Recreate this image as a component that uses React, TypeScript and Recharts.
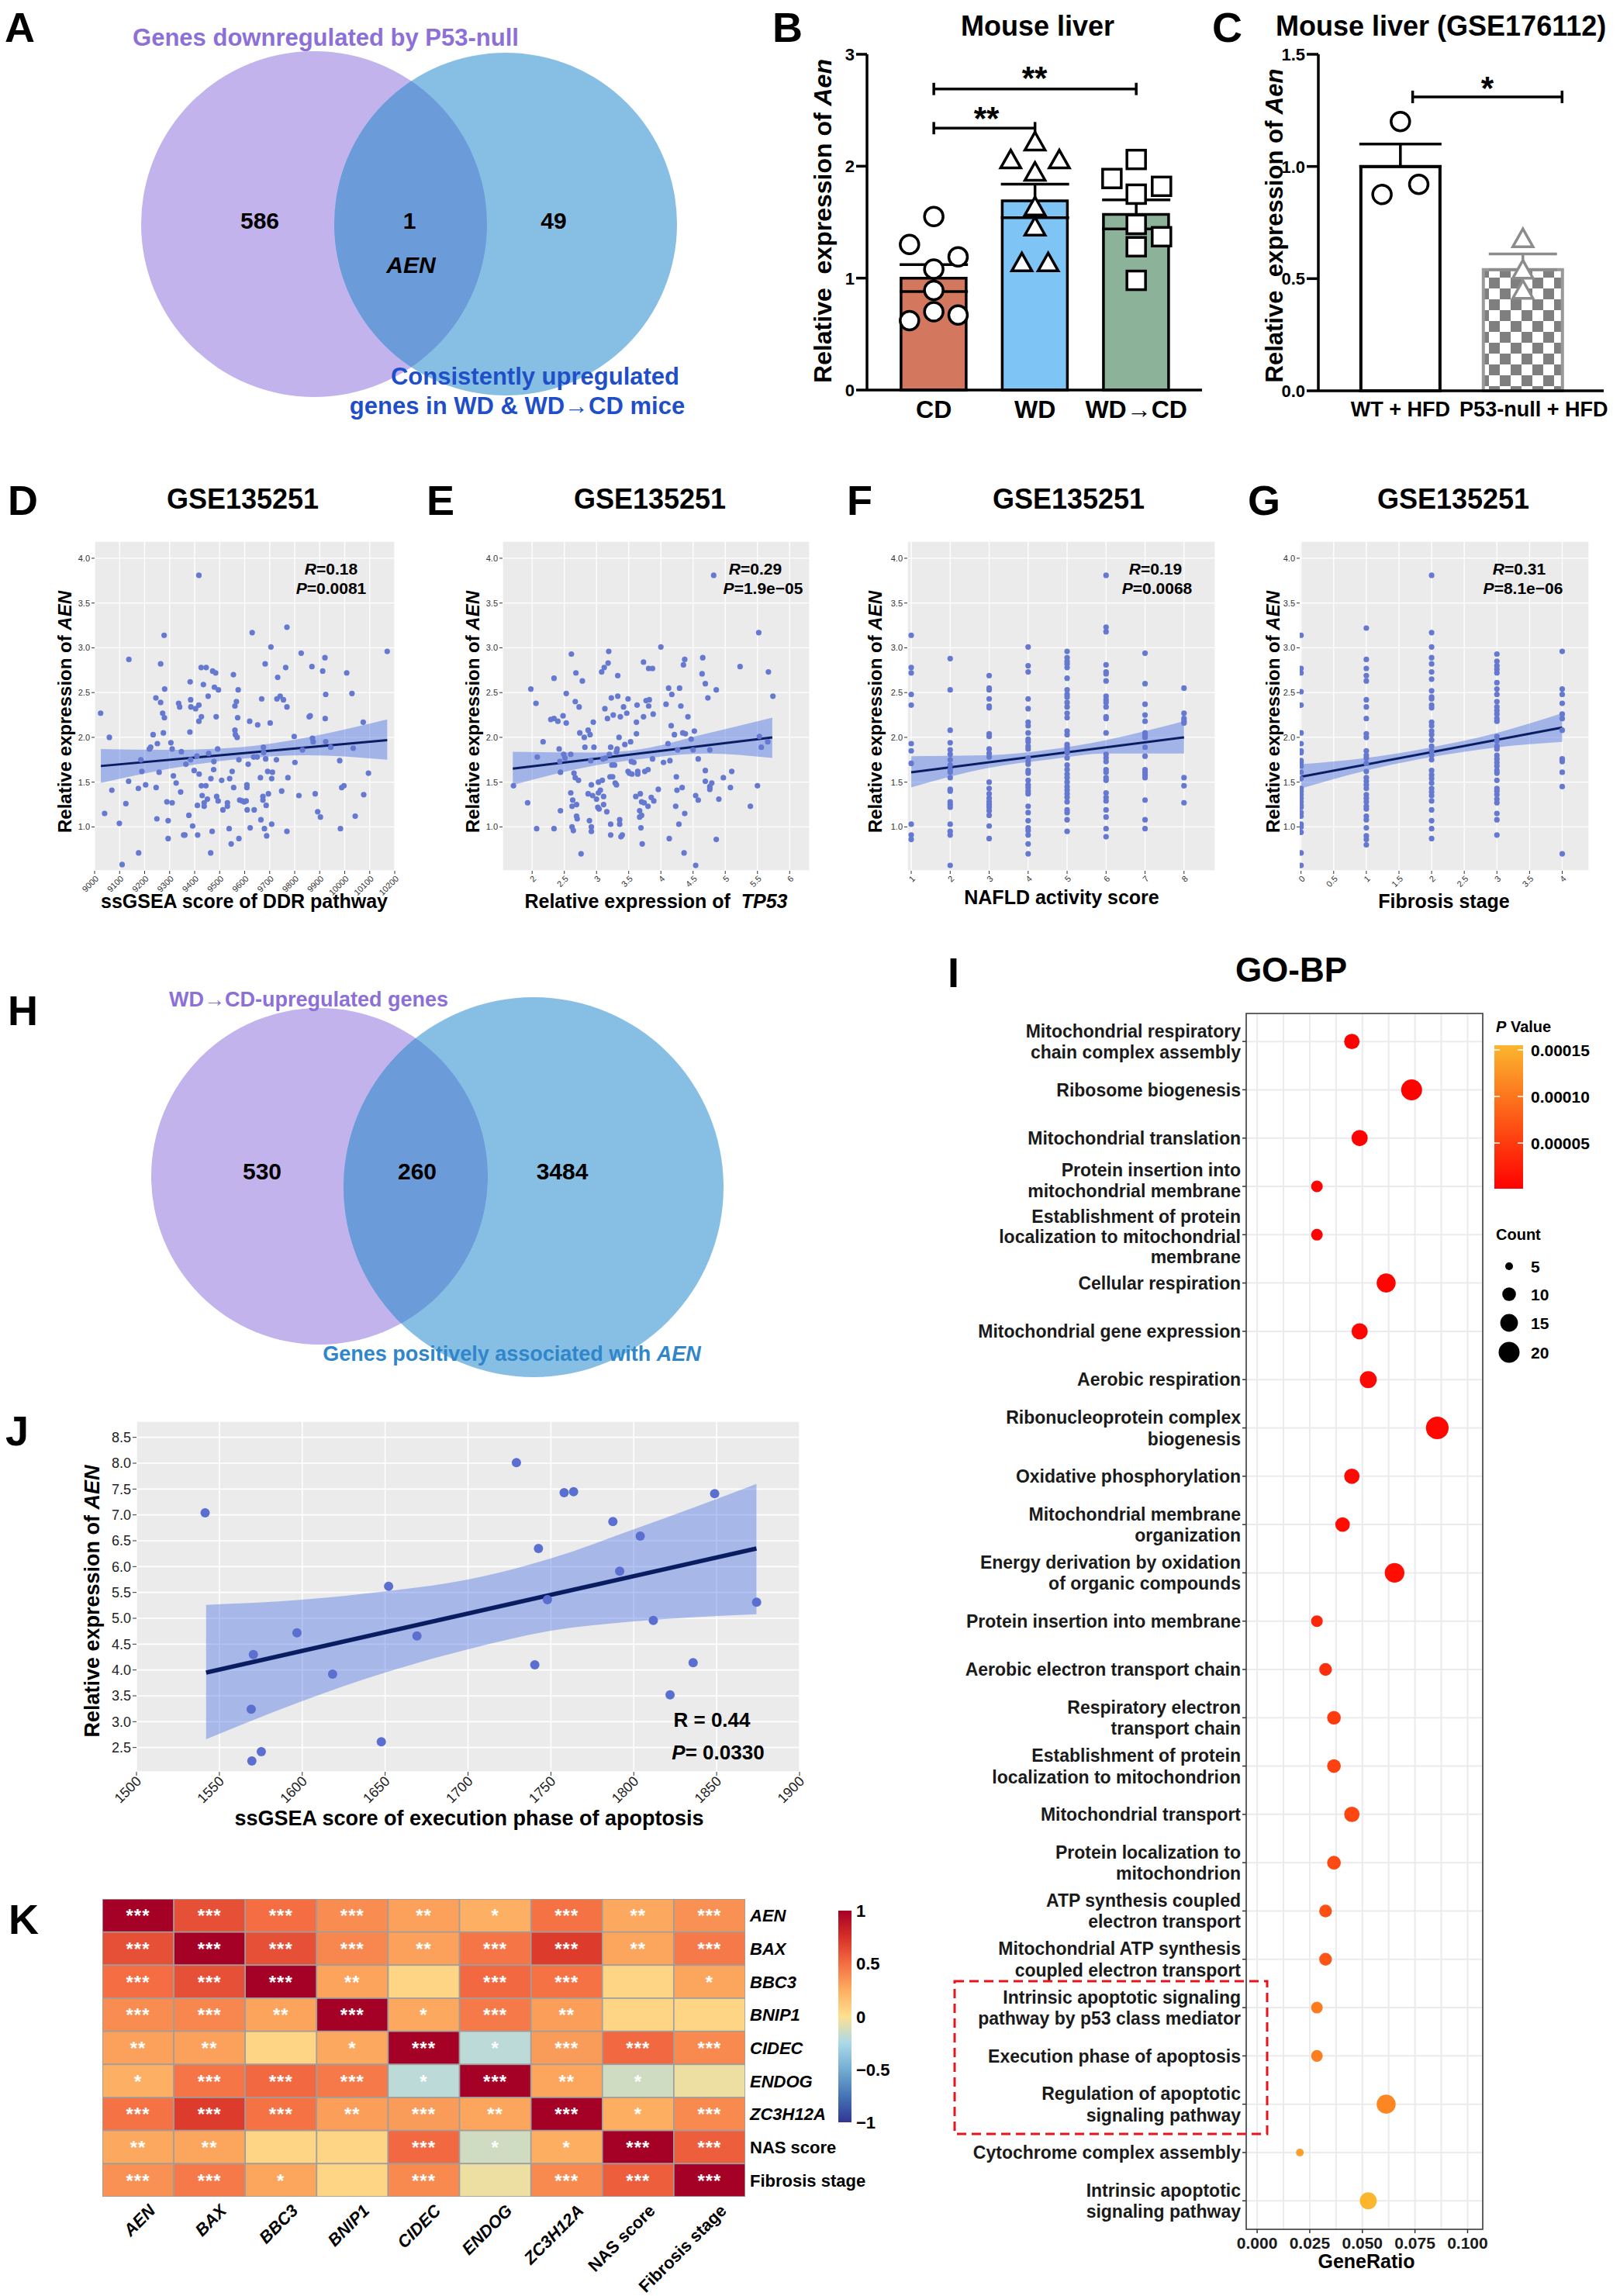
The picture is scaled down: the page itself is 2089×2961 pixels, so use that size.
import React from "react";
import {
  ComposedChart,
  ScatterChart,
  Scatter,
  Bar,
  Line,
  Area,
  XAxis,
  YAxis,
  ZAxis,
  CartesianGrid,
  ErrorBar,
  ReferenceLine,
  Cell,
} from "recharts";

const FONT = "'Liberation Sans', Arial, Helvetica, sans-serif";
const DOT = "#6679D0";
const BAND = "#4A6FE3";
const FIT = "#0B1D61";

// ---------- A / H: venn counts
const vennACounts = [586, 1, 49];
const vennHCounts = [530, 260, 3484];
const vennALayout = [
  { key: "left", cx: 405, cy: 289, r: 223 },
  { key: "right", cx: 652, cy: 289, r: 221 },
];
const vennHLayout = [
  { key: "left", cx: 412, cy: 287, r: 217 },
  { key: "right", cx: 688, cy: 301, r: 245 },
];

// ---------- B: mouse liver
const groupsB = ["CD", "WD", "WD→CD"];
const meansB = [1.0, 1.69, 1.57];
const semB = [0.12, 0.15, 0.13];
const barColorsB = ["#D4775F", "#7EC5F6", "#8CB29A"];
const cdValues = [1.55, 1.3, 1.19, 1.08, 0.89, 0.7, 0.62, 0.67];
const cdJitter = [0, -0.24, 0.24, 0, 0, 0, -0.24, 0.24];
const wdValues = [2.2, 2.04, 2.04, 1.93, 1.62, 1.44, 1.12, 1.12];
const wdJitter = [0, -0.24, 0.24, 0, 0, 0, -0.13, 0.13];
const wdcdValues = [2.06, 1.89, 1.82, 1.75, 1.48, 1.37, 1.28, 0.98];
const wdcdJitter = [0, -0.24, 0.25, 0, 0, 0.25, 0, 0];

// ---------- C: GSE176112
const groupsC = ["WT + HFD", "P53-null + HFD"];
const meansC = [1.0, 0.54];
const semC = [0.1, 0.07];
const wtValues = [1.2, 0.875, 0.92];
const wtJitter = [0, -0.15, 0.15];
const nullValues = [0.67, 0.53, 0.44];

// ---------- D: ssGSEA DDR vs AEN
const ddrPoints = [
  [9024, 2.27], [9040, 1.15], [9059, 2.0], [9069, 1.41], [9099, 1.04], [9110, 0.58], [9125, 1.26], [9137, 2.87],
  [9136, 1.51], [9175, 1.43], [9176, 0.71], [9185, 1.75], [9189, 1.62], [9204, 1.47], [9219, 1.87], [9224, 1.89],
  [9234, 2.03], [9246, 1.44], [9245, 2.44], [9249, 1.09], [9251, 1.93], [9258, 1.61], [9264, 2.82], [9264, 2.39],
  [9272, 2.27], [9275, 2.05], [9278, 3.14], [9280, 2.54], [9279, 2.22], [9289, 1.28], [9294, 1.07], [9294, 0.87],
  [9305, 1.94], [9310, 1.27], [9310, 1.87], [9315, 1.57], [9326, 1.49], [9336, 2.38], [9340, 2.34], [9344, 1.39],
  [9347, 1.84], [9356, 0.91], [9361, 0.91], [9365, 1.7], [9377, 1.13], [9381, 2.06], [9382, 2.62], [9384, 2.42],
  [9385, 2.34], [9384, 1.75], [9392, 1.01], [9398, 1.63], [9404, 2.32], [9409, 1.79], [9411, 1.24], [9412, 0.91],
  [9417, 2.36], [9418, 1.59], [9417, 2.18], [9427, 1.46], [9426, 2.78], [9427, 2.23], [9430, 1.35], [9435, 2.59],
  [9438, 1.27], [9438, 1.23], [9446, 2.78], [9445, 1.46], [9451, 1.31], [9454, 2.46], [9456, 1.82], [9464, 0.71],
  [9465, 1.54], [9470, 0.95], [9472, 2.74], [9476, 1.64], [9477, 1.73], [9479, 2.56], [9484, 2.72], [9486, 2.23],
  [9488, 1.34], [9492, 1.87], [9494, 1.29], [9495, 2.53], [9508, 1.52], [9513, 1.19], [9531, 1.27], [9531, 1.23],
  [9538, 0.98], [9540, 1.54], [9546, 0.81], [9550, 1.62], [9555, 2.7], [9556, 1.44], [9561, 2.35], [9561, 2.08],
  [9563, 2.03], [9567, 2.4], [9570, 2.0], [9572, 2.22], [9574, 2.53], [9577, 1.75], [9577, 0.87], [9580, 1.3],
  [9590, 1.29], [9598, 1.28], [9606, 1.29], [9609, 1.44], [9609, 1.47], [9610, 1.19], [9614, 1.7], [9620, 2.18],
  [9622, 0.99], [9630, 3.17], [9636, 1.78], [9638, 1.19], [9650, 1.78], [9652, 2.14], [9663, 1.55], [9665, 1.08],
  [9668, 2.43], [9673, 1.34], [9673, 1.3], [9675, 1.89], [9676, 1.83], [9679, 0.98], [9682, 2.82], [9684, 1.76],
  [9686, 1.24], [9688, 0.9], [9692, 1.62], [9695, 1.37], [9702, 2.16], [9705, 3.01], [9708, 1.03], [9708, 1.54],
  [9711, 1.61], [9727, 1.75], [9732, 2.67], [9729, 2.43], [9742, 2.46], [9748, 1.4], [9755, 2.42], [9764, 2.78],
  [9769, 2.34], [9769, 3.23], [9769, 0.95], [9773, 1.55], [9798, 2.01], [9801, 1.72], [9817, 1.35], [9826, 2.94],
  [9831, 1.86], [9858, 2.23], [9862, 2.24], [9869, 2.79], [9871, 1.99], [9874, 1.95], [9882, 1.37], [9892, 1.17],
  [9903, 1.11], [9912, 2.74], [9921, 2.89], [9924, 2.48], [9922, 2.21], [9924, 1.95], [9944, 1.89], [9980, 1.74],
  [9983, 0.98], [9988, 1.44], [9997, 1.46], [10008, 2.72], [10029, 2.49], [10034, 1.88], [10042, 1.12], [10074, 2.17],
  [10076, 1.36], [10095, 1.6], [10170, 2.96], [9417, 3.81],
];
const ddrTicks = [9000, 9100, 9200, 9300, 9400, 9500, 9600, 9700, 9800, 9900, 10000, 10100, 10200];
const ddrFit = [[9025, 1.68], [10170, 1.97]];
const ddrBand = [[9025, 1.49, 1.87], [9300, 1.65, 1.86], [9580, 1.76, 1.89], [9850, 1.8, 2.0], [10170, 1.75, 2.2]];

// ---------- E: TP53 vs AEN
const tp53Points = [
  [1.71, 1.46], [1.93, 1.27], [1.98, 2.54], [2.06, 2.38], [2.07, 0.98], [2.08, 1.78], [2.17, 1.95], [2.29, 2.2],
  [2.34, 2.21], [2.34, 2.66], [2.34, 0.98], [2.4, 2.18], [2.42, 1.87], [2.43, 1.73], [2.44, 1.18], [2.44, 1.61],
  [2.48, 2.24], [2.49, 1.81], [2.51, 1.77], [2.53, 2.16], [2.53, 2.49], [2.6, 1.81], [2.6, 1.38], [2.61, 2.93],
  [2.62, 1.23], [2.62, 1.0], [2.63, 1.3], [2.64, 0.96], [2.65, 1.6], [2.67, 2.4], [2.67, 1.55], [2.68, 2.72],
  [2.69, 1.25], [2.69, 1.12], [2.7, 1.09], [2.72, 1.52], [2.73, 2.34], [2.74, 2.05], [2.76, 0.7], [2.78, 2.63],
  [2.81, 2.0], [2.82, 1.89], [2.87, 2.08], [2.87, 1.37], [2.89, 1.07], [2.9, 2.03], [2.91, 1.74], [2.92, 1.47],
  [2.92, 0.95], [2.92, 1.0], [2.94, 1.35], [2.95, 2.17], [2.96, 1.89], [3.0, 1.31], [3.02, 1.22], [3.03, 1.38],
  [3.03, 1.5], [3.04, 1.2], [3.06, 1.41], [3.08, 2.73], [3.09, 1.52], [3.1, 1.76], [3.11, 1.25], [3.11, 1.34],
  [3.12, 2.78], [3.13, 2.32], [3.14, 1.77], [3.16, 1.17], [3.17, 2.21], [3.18, 2.83], [3.19, 2.96], [3.2, 1.81],
  [3.21, 1.56], [3.22, 1.03], [3.22, 0.91], [3.22, 1.89], [3.23, 2.44], [3.24, 1.69], [3.25, 1.56], [3.26, 2.25],
  [3.28, 1.69], [3.29, 1.49], [3.31, 1.47], [3.31, 1.84], [3.32, 1.87], [3.33, 2.69], [3.33, 2.46], [3.35, 2.0],
  [3.36, 1.03], [3.36, 1.08], [3.37, 2.23], [3.38, 0.89], [3.4, 0.91], [3.42, 2.34], [3.44, 1.92], [3.47, 2.27],
  [3.49, 1.62], [3.49, 2.43], [3.51, 1.6], [3.53, 1.95], [3.54, 1.73], [3.55, 1.59], [3.58, 1.72], [3.61, 1.34],
  [3.62, 2.17], [3.62, 2.04], [3.63, 2.36], [3.64, 1.62], [3.64, 1.59], [3.67, 1.18], [3.67, 1.11], [3.68, 1.37],
  [3.69, 0.99], [3.7, 1.13], [3.71, 0.81], [3.7, 1.28], [3.73, 2.84], [3.73, 2.23], [3.74, 1.27], [3.75, 1.62],
  [3.77, 2.41], [3.8, 1.23], [3.8, 1.64], [3.81, 2.77], [3.81, 2.35], [3.82, 2.42], [3.85, 1.33], [3.87, 1.76],
  [3.87, 2.77], [3.88, 2.26], [3.89, 1.29], [3.96, 1.42], [4.0, 3.01], [4.04, 1.72], [4.08, 2.37], [4.11, 1.93],
  [4.12, 2.55], [4.13, 0.87], [4.14, 1.74], [4.16, 2.13], [4.17, 2.48], [4.21, 2.03], [4.23, 1.23], [4.24, 1.56],
  [4.25, 1.41], [4.26, 1.86], [4.28, 1.03], [4.29, 2.55], [4.31, 2.35], [4.33, 1.44], [4.34, 2.05], [4.35, 2.81],
  [4.36, 0.71], [4.37, 1.15], [4.37, 2.87], [4.38, 2.04], [4.42, 2.23], [4.47, 1.98], [4.5, 1.86], [4.52, 2.07],
  [4.54, 1.35], [4.54, 0.57], [4.58, 1.3], [4.58, 1.76], [4.64, 2.71], [4.65, 2.89], [4.69, 2.6], [4.69, 1.63],
  [4.69, 1.51], [4.73, 2.44], [4.76, 1.45], [4.76, 1.86], [4.76, 1.42], [4.79, 1.49], [4.82, 3.81], [4.86, 2.53],
  [4.86, 0.86], [4.9, 1.31], [4.97, 1.55], [5.08, 1.44], [5.1, 1.62], [5.23, 2.79], [5.39, 1.23], [5.5, 1.46],
  [5.52, 3.17], [5.53, 2.01], [5.56, 1.89], [5.66, 1.95], [5.67, 2.73], [5.74, 2.46],
];
const tp53Ticks = [2, 2.5, 3, 3.5, 4, 4.5, 5, 5.5, 6];
const tp53Fit = [[1.7, 1.65], [5.73, 2.0]];
const tp53Band = [[1.7, 1.47, 1.84], [3.0, 1.69, 1.83], [3.7, 1.76, 1.87], [4.7, 1.82, 2.04], [5.73, 1.77, 2.22]];

// ---------- F: NAFLD activity score vs AEN
const nasScores = [1, 2, 3, 4, 5, 6, 7, 8];
const nasValues = [
  [3.14, 2.78, 2.72, 2.48, 2.36, 1.93, 1.85, 1.71, 1.03, 0.91, 0.86],
  [2.88, 2.53, 2.08, 1.94, 1.86, 1.81, 1.75, 1.69, 1.64, 1.61, 1.55, 1.42, 1.4, 1.28, 1.25, 1.22, 1.03, 0.95, 0.91, 0.57],
  [2.69, 2.55, 2.53, 2.43, 2.35, 2.33, 2.04, 2.01, 1.87, 1.82, 1.78, 1.5, 1.43, 1.37, 1.32, 1.28, 1.25, 1.22, 1.18, 1.13, 1.01, 0.87],
  [3.01, 2.8, 2.73, 2.43, 2.32, 2.17, 2.13, 2.05, 1.98, 1.95, 1.9, 1.87, 1.77, 1.73, 1.7, 1.63, 1.6, 1.52, 1.47, 1.44, 1.4, 1.37, 1.23, 1.16, 1.07, 0.99, 0.96, 0.91, 0.81, 0.7],
  [2.96, 2.89, 2.85, 2.82, 2.78, 2.66, 2.53, 2.48, 2.45, 2.39, 2.34, 2.27, 2.22, 2.07, 2.03, 1.92, 1.89, 1.86, 1.83, 1.77, 1.69, 1.64, 1.59, 1.55, 1.5, 1.45, 1.41, 1.37, 1.33, 1.28, 1.19, 1.16, 1.08, 0.95],
  [3.81, 3.23, 3.18, 2.81, 2.73, 2.71, 2.63, 2.46, 2.42, 2.39, 2.34, 2.23, 2.21, 2.05, 1.81, 1.77, 1.73, 1.64, 1.61, 1.55, 1.52, 1.38, 1.33, 1.29, 1.19, 1.11, 0.98, 0.89],
  [2.94, 2.6, 2.37, 2.25, 2.18, 2.05, 2.02, 2.0, 1.89, 1.79, 1.64, 1.61, 1.58, 1.55, 1.3, 1.08, 0.98],
  [2.55, 2.27, 2.21, 2.18, 2.16, 1.55, 1.46, 1.27],
];
const nasTicks = [1, 2, 3, 4, 5, 6, 7, 8];
const nasFit = [[1, 1.61], [8, 2.0]];
const nasBand = [[1, 1.44, 1.79], [3, 1.66, 1.8], [4.5, 1.75, 1.86], [6, 1.82, 1.97], [8, 1.82, 2.18]];

// ---------- G: fibrosis stage vs AEN
const fibStages = [0, 1, 2, 3, 4];
const fibValues = [
  [3.14, 2.77, 2.72, 2.51, 2.36, 2.05, 1.93, 1.85, 1.83, 1.74, 1.72, 1.68, 1.61, 1.54, 1.43, 1.4, 1.36, 1.32, 1.28, 1.24, 1.22, 1.16, 1.12, 1.03, 1.0, 0.94, 0.71, 0.57],
  [3.22, 2.87, 2.77, 2.69, 2.63, 2.42, 2.34, 2.21, 2.04, 2.0, 1.85, 1.8, 1.77, 1.71, 1.62, 1.55, 1.51, 1.47, 1.43, 1.36, 1.32, 1.28, 1.23, 1.2, 1.12, 1.08, 0.99, 0.9, 0.86, 0.8],
  [3.81, 3.17, 3.01, 2.89, 2.82, 2.73, 2.65, 2.52, 2.45, 2.43, 2.36, 2.33, 2.17, 2.13, 2.07, 2.03, 1.97, 1.9, 1.85, 1.8, 1.75, 1.63, 1.58, 1.54, 1.49, 1.43, 1.39, 1.35, 1.29, 1.19, 1.07, 0.98, 0.87],
  [2.93, 2.85, 2.8, 2.76, 2.72, 2.61, 2.54, 2.48, 2.4, 2.34, 2.3, 2.26, 2.21, 2.18, 2.01, 1.96, 1.9, 1.87, 1.8, 1.76, 1.72, 1.68, 1.63, 1.6, 1.52, 1.43, 1.4, 1.36, 1.31, 1.27, 1.15, 1.08, 0.91],
  [2.96, 2.54, 2.48, 2.38, 2.26, 2.21, 2.08, 1.76, 1.73, 1.61, 1.45, 0.7],
];
const fibTicks = [0, 0.5, 1, 1.5, 2, 2.5, 3, 3.5, 4];
const fibFit = [[0, 1.56], [4, 2.11]];
const fibBand = [[0, 1.43, 1.7], [1, 1.63, 1.77], [2, 1.78, 1.89], [3, 1.89, 2.05], [4, 1.95, 2.27]];

// ---------- I: GO-BP
const goTerms = [
  "Mitochondrial respiratory\nchain complex assembly",
  "Ribosome biogenesis",
  "Mitochondrial translation",
  "Protein insertion into\nmitochondrial membrane",
  "Establishment of protein\nlocalization to mitochondrial\nmembrane",
  "Cellular respiration",
  "Mitochondrial gene expression",
  "Aerobic respiration",
  "Ribonucleoprotein complex\nbiogenesis",
  "Oxidative phosphorylation",
  "Mitochondrial membrane\norganization",
  "Energy derivation by oxidation\nof organic compounds",
  "Protein insertion into membrane",
  "Aerobic electron transport chain",
  "Respiratory electron\ntransport chain",
  "Establishment of protein\nlocalization to mitochondrion",
  "Mitochondrial transport",
  "Protein localization to\nmitochondrion",
  "ATP synthesis coupled\nelectron transport",
  "Mitochondrial ATP synthesis\ncoupled electron transport",
  "Intrinsic apoptotic signaling\npathway by p53 class mediator",
  "Execution phase of apoptosis",
  "Regulation of apoptotic\nsignaling pathway",
  "Cytochrome complex assembly",
  "Intrinsic apoptotic\nsignaling pathway",
];
const goRatio = [0.045, 0.0734, 0.0487, 0.0284, 0.0284, 0.0613, 0.0487, 0.0528, 0.0856, 0.045, 0.0406, 0.0653, 0.0284, 0.0325, 0.0365, 0.0365, 0.045, 0.0365, 0.0325, 0.0325, 0.0284, 0.0284, 0.0613, 0.0203, 0.0528];
const goCount = [12, 20, 13, 8, 8, 17, 13, 14, 23, 12, 11, 18, 8, 9, 10, 10, 12, 10, 9, 9, 8, 8, 17, 5, 14];
const goP = [1e-6, 1.5e-6, 2e-6, 3e-6, 3.5e-6, 4e-6, 5e-6, 6e-6, 7e-6, 8e-6, 1e-5, 1.2e-5, 3.2e-5, 4e-5, 5e-5, 5.5e-5, 6e-5, 6.3e-5, 6.8e-5, 7.2e-5, 1.05e-4, 1.07e-4, 1.15e-4, 1.37e-4, 1.55e-4];
const goXTicks = [0, 0.0125, 0.025, 0.0375, 0.05, 0.0625, 0.075, 0.0875, 0.1];
const goCountLegend = [5, 10, 15, 20];
const goPLegend = [0.00015, 0.0001, 0.00005];

// ---------- J: execution phase of apoptosis vs AEN
const apopPoints = [
  [1541.4, 7.04], [1570.5, 4.3], [1569.2, 3.24], [1569.6, 2.24], [1575.3, 2.42], [1596.8, 4.72], [1618.3, 3.92], [1647.7, 2.61],
  [1652.1, 5.62], [1669.2, 4.66], [1729.2, 8.01], [1740.3, 4.1], [1742.5, 6.35], [1747.9, 5.36], [1758.0, 7.43], [1763.7, 7.45],
  [1787.4, 6.87], [1791.5, 5.91], [1803.9, 6.59], [1811.8, 4.96], [1821.9, 3.52], [1835.8, 4.14], [1848.8, 7.41], [1874.1, 5.31],
];
const apopXTicks = [1500, 1550, 1600, 1650, 1700, 1750, 1800, 1850, 1900];
const apopYTicks = [2.5, 3.0, 3.5, 4.0, 4.5, 5.0, 5.5, 6.0, 6.5, 7.0, 7.5, 8.0, 8.5];
const apopFit = [[1542, 3.95], [1874, 6.35]];
const apopBand = [[1542, 2.66, 5.26], [1600, 3.4, 5.36], [1650, 3.95, 5.52], [1700, 4.4, 5.75], [1750, 4.76, 6.16], [1800, 4.94, 6.72], [1874, 5.08, 7.6]];

// ---------- K: correlation heatmap
const corrLabels = ["AEN", "BAX", "BBC3", "BNIP1", "CIDEC", "ENDOG", "ZC3H12A", "NAS score", "Fibrosis stage"];
const corrItalic = [true, true, true, true, true, true, true, false, false];
const corrValues = [
  [1, 0.62, 0.5, 0.38, 0.3, 0.24, 0.48, 0.27, 0.36],
  [0.62, 1, 0.62, 0.4, 0.3, 0.47, 0.7, 0.28, 0.45],
  [0.5, 0.62, 1, 0.29, 0.06, 0.52, 0.48, 0.06, 0.28],
  [0.38, 0.4, 0.29, 1, 0.27, 0.45, 0.31, 0.06, 0.06],
  [0.3, 0.3, 0.06, 0.27, 1, -0.2, 0.32, 0.52, 0.39],
  [0.24, 0.47, 0.52, 0.45, -0.2, 1, 0.28, -0.14, -0.05],
  [0.48, 0.7, 0.48, 0.31, 0.32, 0.28, 1, 0.25, 0.39],
  [0.27, 0.28, 0.06, 0.06, 0.52, -0.14, 0.25, 1, 0.56],
  [0.36, 0.45, 0.28, 0.06, 0.39, -0.05, 0.39, 0.56, 1],
];
const corrStars = [
  ["***", "***", "***", "***", "**", "*", "***", "**", "***"],
  ["***", "***", "***", "***", "**", "***", "***", "**", "***"],
  ["***", "***", "***", "**", "", "***", "***", "", "*"],
  ["***", "***", "**", "***", "*", "***", "**", "", ""],
  ["**", "**", "", "*", "***", "*", "***", "***", "***"],
  ["*", "***", "***", "***", "*", "***", "**", "*", ""],
  ["***", "***", "***", "**", "***", "**", "***", "*", "***"],
  ["**", "**", "", "", "***", "*", "*", "***", "***"],
  ["***", "***", "*", "", "***", "", "***", "***", "***"],
];
const corrLegend = [1, 0.5, 0, -0.5, -1];

// ---------- colour scales
const hex = (c: number[]) => "#" + c.map((v) => Math.round(v).toString(16).padStart(2, "0")).join("");
const parse = (h: string) => [1, 3, 5].map((i) => parseInt(h.slice(i, i + 2), 16));
const mix = (a: string, b: string, t: number) => {
  const A = parse(a), B = parse(b);
  return hex(A.map((v, i) => v + (B[i] - v) * t));
};
const P_MAX = 1.55e-4;
const pColor = (p: number) => mix("#FF0000", "#FBB62E", Math.min(1, p / P_MAX));
const corrStops = ["#313695", "#4575B4", "#74ADD1", "#ABD9E9", "#FEE090", "#FDAE61", "#F46D43", "#D73027", "#A50026"];
const corrColor = (v: number) => {
  const t = ((v + 1) / 2) * 8;
  const i = Math.min(7, Math.floor(t));
  return mix(corrStops[i], corrStops[i + 1], t - i);
};
// ZAxis mapping used for the count legend
const Z_DOMAIN = [3, 23];
const Z_RANGE = [13, 671];
const countRadius = (c: number) =>
  Math.sqrt((Z_RANGE[0] + ((c - Z_DOMAIN[0]) / (Z_DOMAIN[1] - Z_DOMAIN[0])) * (Z_RANGE[1] - Z_RANGE[0])) / Math.PI);

const M0 = { top: 0, right: 0, bottom: 0, left: 0 };

// ---------- shared pieces
const RotTick = (p: any) => {
  const { x, y, payload, fmt, size, color } = p;
  const ax = x + 3;
  const ay = y + 2;
  return (
    <text x={ax} y={ay} transform={`rotate(-45 ${ax} ${ay})`} textAnchor="end" dominantBaseline="central" fontSize={size} fill={color}>
      {fmt(payload.value)}
    </text>
  );
};

function GgScatter({ left, top, plotW, plotH, points, fit, band, xDomain, xTicks }: any) {
  const yW = 40;
  const xH = 45;
  const padR = 12;
  const data = points.map(([x, y]: number[]) => ({ x, y }));
  const bandData = band.map(([x, lo, hi]: number[]) => ({ x, range: [lo, hi] }));
  const fitData = fit.map(([x, y]: number[]) => ({ x, y }));
  return (
    <div style={{ position: "absolute", left: left - yW, top }}>
      <ComposedChart width={yW + plotW + padR} height={plotH + xH} margin={{ ...M0, right: padR }}>
        <CartesianGrid fill="#EBEBEB" stroke="#FFFFFF" strokeWidth={1.3} />
        <XAxis
          type="number"
          dataKey="x"
          domain={xDomain}
          ticks={xTicks}
          interval={0}
          allowDataOverflow
          height={xH}
          axisLine={false}
          tickLine={{ stroke: "#333" }}
          tickSize={4}
          tick={(p: any) => <RotTick {...p} fmt={(v: number) => String(v)} size={11} color="#333" />}
        />
        <YAxis
          type="number"
          dataKey="y"
          domain={[0.51, 4.19]}
          ticks={[1, 1.5, 2, 2.5, 3, 3.5, 4]}
          interval={0}
          allowDataOverflow
          width={yW}
          axisLine={false}
          tickLine={{ stroke: "#333" }}
          tickSize={4}
          tick={{ fontSize: 11, fill: "#333" }}
          tickFormatter={(v: number) => v.toFixed(1)}
        />
        <Scatter data={data} isAnimationActive={false} shape={(p: any) => <circle cx={p.cx} cy={p.cy} r={3.6} fill={DOT} />} />
        <Area data={bandData} dataKey="range" type="monotone" stroke="none" fill={BAND} fillOpacity={0.45} isAnimationActive={false} />
        <Line data={fitData} dataKey="y" type="linear" stroke={FIT} strokeWidth={3} dot={false} isAnimationActive={false} />
      </ComposedChart>
    </div>
  );
}

function VennChart({ left, top, width, height, circles, id }: any) {
  const [a, b] = circles;
  const shape = (p: any) => {
    const d = p.payload;
    if (d.key === "left") return <circle cx={p.cx} cy={p.cy} r={d.r} fill="#C2B3EC" />;
    const lx = p.cx - (b.cx - a.cx);
    const ly = p.cy - (b.cy - a.cy);
    return (
      <g>
        <clipPath id={id}>
          <circle cx={p.cx} cy={p.cy} r={d.r} />
        </clipPath>
        <circle cx={p.cx} cy={p.cy} r={d.r} fill="#87BFE4" />
        <circle cx={lx} cy={ly} r={a.r} fill="#6C9BD9" clipPath={`url(#${id})`} />
      </g>
    );
  };
  return (
    <div style={{ position: "absolute", left, top }}>
      <ScatterChart width={width} height={height} margin={M0}>
        <XAxis type="number" dataKey="cx" domain={[0, width]} hide />
        <YAxis type="number" dataKey="cy" domain={[0, height]} reversed hide />
        <Scatter data={circles} isAnimationActive={false} shape={shape} />
      </ScatterChart>
    </div>
  );
}

const circleShape = (stroke: string) => (p: any) => (
  <circle cx={p.cx} cy={p.cy} r={12} fill="#fff" stroke={stroke} strokeWidth={3.5} />
);
const triShape = (stroke: string) => (p: any) => (
  <path d={`M${p.cx},${p.cy - 15} L${p.cx - 13},${p.cy + 8} L${p.cx + 13},${p.cy + 8} Z`} fill="#fff" stroke={stroke} strokeWidth={3.5} strokeLinejoin="miter" />
);
const squareShape = (stroke: string) => (p: any) => (
  <rect x={p.cx - 12} y={p.cy - 12} width={24} height={24} fill="#fff" stroke={stroke} strokeWidth={3.5} />
);
const noShape = () => <g />;

function Bracket({ x1, x2, y, cap }: any) {
  return (
    <>
      <ReferenceLine segment={[{ x: x1, y }, { x: x2, y }]} stroke="#000" strokeWidth={3.5} ifOverflow="visible" />
      <ReferenceLine segment={[{ x: x1, y: y - cap }, { x: x1, y: y + cap }]} stroke="#000" strokeWidth={3.5} ifOverflow="visible" />
      <ReferenceLine segment={[{ x: x2, y: y - cap }, { x: x2, y: y + cap }]} stroke="#000" strokeWidth={3.5} ifOverflow="visible" />
    </>
  );
}

const PAD_T = 20;

function PanelB() {
  const yW = 60, xH = 50, plotW = 432, plotH = 433;
  const domain = [0.34, 3.65];
  const bars = groupsB.map((_, i) => ({ x: i + 1, y: meansB[i] }));
  const errs = groupsB.map((_, i) => ({ x: i + 1, y: meansB[i], err: [semB[i], semB[i]] }));
  const pts = (vals: number[], jit: number[], g: number) => vals.map((v, i) => ({ x: g + jit[i], y: v }));
  return (
    <div style={{ position: "absolute", left: 1118 - yW, top: 70 - PAD_T }}>
      <ComposedChart data={bars} width={yW + plotW} height={plotH + xH + PAD_T} margin={{ ...M0, top: PAD_T }}>
        <XAxis
          type="number"
          dataKey="x"
          domain={domain}
          ticks={[1, 2, 3]}
          interval={0}
          allowDataOverflow
          height={xH}
          axisLine={{ stroke: "#000", strokeWidth: 3.5 }}
          tickLine={false}
          tickSize={0}
          tick={(p: any) => (
            <text x={p.x} y={p.y + 34} textAnchor="middle" fontSize={32} fontWeight="bold" fill="#000">
              {groupsB[p.payload.value - 1]}
            </text>
          )}
        />
        <XAxis xAxisId="bars" type="number" dataKey="x" domain={domain} allowDataOverflow hide />
        <YAxis
          type="number"
          dataKey="y"
          domain={[0, 3]}
          ticks={[0, 1, 2, 3]}
          interval={0}
          width={yW}
          axisLine={{ stroke: "#000", strokeWidth: 3.5 }}
          tickLine={{ stroke: "#000", strokeWidth: 3.5 }}
          tickSize={14}
          tick={(p: any) => (
            <text x={p.x} y={p.y} dy="0.36em" textAnchor="end" fontSize={22} fontWeight="bold" fill="#000">
              {p.payload.value}
            </text>
          )}
        />
        <Bar xAxisId="bars" dataKey="y" barSize={84} stroke="#000" strokeWidth={3.5} isAnimationActive={false}>
          {bars.map((_, i) => (
            <Cell key={i} fill={barColorsB[i]} />
          ))}
        </Bar>
        <Scatter data={errs} isAnimationActive={false} shape={noShape}>
          <ErrorBar dataKey="err" direction="y" width={44} stroke="#000" strokeWidth={3.5} isAnimationActive={false} />
        </Scatter>
        <Scatter data={pts(cdValues, cdJitter, 1)} isAnimationActive={false} shape={circleShape("#000")} />
        <Scatter data={pts(wdValues, wdJitter, 2)} isAnimationActive={false} shape={triShape("#000")} />
        <Scatter data={pts(wdcdValues, wdcdJitter, 3)} isAnimationActive={false} shape={squareShape("#000")} />
        {Bracket({ x1: 1, x2: 2, y: 2.34, cap: 0.055 })}
        {Bracket({ x1: 1, x2: 3, y: 2.69, cap: 0.055 })}
      </ComposedChart>
    </div>
  );
}

function PanelC() {
  const yW = 60, xH = 50, plotW = 368, plotH = 434, padR = 20;
  const domain = [0.33, 2.66];
  const bars = groupsC.map((_, i) => ({ x: i + 1, y: meansC[i] }));
  return (
    <div style={{ position: "absolute", left: 1700 - yW, top: 70 - PAD_T }}>
      <ComposedChart data={bars} width={yW + plotW + padR} height={plotH + xH + PAD_T} margin={{ ...M0, top: PAD_T, right: padR }}>
        <XAxis
          type="number"
          dataKey="x"
          domain={domain}
          ticks={[1, 2]}
          interval={0}
          allowDataOverflow
          height={xH}
          axisLine={{ stroke: "#000", strokeWidth: 3.5 }}
          tickLine={false}
          tickSize={0}
          tick={(p: any) => (
            <text x={p.x + (p.payload.value === 2 ? 14 : 0)} y={p.y + 31} textAnchor="middle" fontSize={27} fontWeight="bold" fill="#000">
              {groupsC[p.payload.value - 1]}
            </text>
          )}
        />
        <XAxis xAxisId="bars" type="number" dataKey="x" domain={domain} allowDataOverflow hide />
        <YAxis
          type="number"
          dataKey="y"
          domain={[0, 1.5]}
          ticks={[0, 0.5, 1, 1.5]}
          interval={0}
          width={yW}
          axisLine={{ stroke: "#000", strokeWidth: 3.5 }}
          tickLine={{ stroke: "#000", strokeWidth: 3.5 }}
          tickSize={15}
          tick={(p: any) => (
            <text x={p.x} y={p.y} dy="0.36em" textAnchor="end" fontSize={22} fontWeight="bold" fill="#000">
              {p.payload.value.toFixed(1)}
            </text>
          )}
        />
        <Bar xAxisId="bars" dataKey="y" barSize={102} strokeWidth={4} isAnimationActive={false}>
          <Cell fill="#FFFFFF" stroke="#000" />
          <Cell fill="url(#checker)" stroke="#999999" />
        </Bar>
        <Scatter data={[{ x: 1, y: meansC[0], err: [0, semC[0]] }]} isAnimationActive={false} shape={noShape}>
          <ErrorBar dataKey="err" direction="y" width={53} stroke="#000" strokeWidth={3.5} isAnimationActive={false} />
        </Scatter>
        <Scatter data={[{ x: 2, y: meansC[1], err: [0, semC[1]] }]} isAnimationActive={false} shape={noShape}>
          <ErrorBar dataKey="err" direction="y" width={44} stroke="#8C8C8C" strokeWidth={3.5} isAnimationActive={false} />
        </Scatter>
        <Scatter data={wtValues.map((v, i) => ({ x: 1 + wtJitter[i], y: v }))} isAnimationActive={false} shape={circleShape("#000")} />
        <Scatter data={nullValues.map((v) => ({ x: 2, y: v }))} isAnimationActive={false} shape={triShape("#8C8C8C")} />
        {Bracket({ x1: 1.1, x2: 2.32, y: 1.31, cap: 0.028 })}
      </ComposedChart>
    </div>
  );
}

// label nudges (px) and line spacing for the GO term axis text
const goNudge: Record<number, number> = { 3: -8, 4: 2 };
const GoYTick = (p: any) => {
  const idx = p.payload.value;
  const lines = (goTerms[idx] || "").split("\n");
  const lh = lines.length > 2 ? 26 : 27.5;
  const y0 = p.y + (goNudge[idx] || 0) - ((lines.length - 1) * lh) / 2;
  return (
    <g>
      {lines.map((l: string, i: number) => (
        <text key={i} x={p.x} y={y0 + i * lh} dy="0.36em" textAnchor="end" fontSize={23} fontWeight="bold" fill="#1A1A1A">
          {l}
        </text>
      ))}
    </g>
  );
};

const GoXTick = (p: any) => {
  const v = p.payload.value;
  const major = Math.abs(v / 0.025 - Math.round(v / 0.025)) < 1e-6;
  if (!major) return <g />;
  return (
    <g>
      <line x1={p.x} x2={p.x} y1={p.y - 8} y2={p.y - 3} stroke="#333" strokeWidth={1.5} />
      <text x={p.x} y={p.y + 17} textAnchor="middle" fontSize={21} fontWeight="bold" fill="#1A1A1A">
        {v.toFixed(3)}
      </text>
    </g>
  );
};

function PanelI() {
  const yW = 398, xH = 45, plotW = 305, plotH = 1568, padR = 20;
  const data = goTerms.map((_, i) => ({ x: goRatio[i], y: i, count: goCount[i], p: goP[i] }));
  return (
    <div style={{ position: "absolute", left: 1607 - yW, top: 1307 }}>
      <ScatterChart width={yW + plotW + padR} height={plotH + xH} margin={{ ...M0, right: padR }}>
        <CartesianGrid stroke="#EBEBEB" strokeWidth={2} />
        <XAxis
          type="number"
          dataKey="x"
          domain={[-0.0052, 0.1072]}
          ticks={goXTicks}
          interval={0}
          allowDataOverflow
          height={xH}
          axisLine={false}
          tickLine={false}
          tick={GoXTick}
        />
        <YAxis
          type="number"
          dataKey="y"
          domain={[-0.58, 24.59]}
          reversed
          ticks={goTerms.map((_, i) => i)}
          interval={0}
          allowDataOverflow
          width={yW}
          axisLine={false}
          tickLine={{ stroke: "#333", strokeWidth: 1.5 }}
          tickSize={5}
          tick={GoYTick}
        />
        <ZAxis type="number" dataKey="count" domain={Z_DOMAIN} range={Z_RANGE} />
        <Scatter data={data} isAnimationActive={false}>
          {data.map((d, i) => (
            <Cell key={i} fill={pColor(d.p)} />
          ))}
        </Scatter>
      </ScatterChart>
    </div>
  );
}

function PanelJ() {
  const yW = 50, xH = 60, plotW = 855, plotH = 452, padR = 20;
  const data = apopPoints.map(([x, y]) => ({ x, y }));
  const bandData = apopBand.map(([x, lo, hi]) => ({ x, range: [lo, hi] }));
  const fitData = apopFit.map(([x, y]) => ({ x, y }));
  return (
    <div style={{ position: "absolute", left: 176 - yW, top: 1833 }}>
      <ComposedChart width={yW + plotW + padR} height={plotH + xH} margin={{ ...M0, right: padR }}>
        <CartesianGrid fill="#EBEBEB" stroke="#FFFFFF" strokeWidth={1.6} />
        <XAxis
          type="number"
          dataKey="x"
          domain={[1500, 1900]}
          ticks={apopXTicks}
          interval={0}
          allowDataOverflow
          height={xH}
          axisLine={false}
          tickLine={{ stroke: "#333" }}
          tickSize={5}
          tick={(p: any) => <RotTick {...p} fmt={(v: number) => String(v)} size={18} color="#222" />}
        />
        <YAxis
          type="number"
          dataKey="y"
          domain={[2.03, 8.81]}
          ticks={apopYTicks}
          interval={0}
          allowDataOverflow
          width={yW}
          axisLine={false}
          tickLine={{ stroke: "#333" }}
          tickSize={5}
          tick={{ fontSize: 18, fill: "#222" }}
          tickFormatter={(v: number) => v.toFixed(1)}
        />
        <Scatter data={data} isAnimationActive={false} shape={(p: any) => <circle cx={p.cx} cy={p.cy} r={6} fill="#5B6FD0" />} />
        <Area data={bandData} dataKey="range" type="monotone" stroke="none" fill={BAND} fillOpacity={0.42} isAnimationActive={false} />
        <Line data={fitData} dataKey="y" type="linear" stroke={FIT} strokeWidth={5.5} dot={false} isAnimationActive={false} />
      </ComposedChart>
    </div>
  );
}

function PanelK() {
  const plotW = 829, plotH = 384, yW = 180, xH = 130;
  const cw = plotW / 9, ch = plotH / 9;
  const cells: any[] = [];
  corrValues.forEach((row, r) => row.forEach((v, c) => cells.push({ x: c + 1, y: r + 1, v, s: corrStars[r][c] })));
  const shape = (p: any) => (
    <g>
      <rect x={p.cx - cw / 2} y={p.cy - ch / 2} width={cw} height={ch} fill={corrColor(p.payload.v)} stroke="#9E9E9E" strokeWidth={1.6} />
      {p.payload.s ? (
        <text x={p.cx} y={p.cy + 9} textAnchor="middle" fontSize={24} fontWeight="bold" fill="#fff" letterSpacing={1}>
          {p.payload.s}
        </text>
      ) : null}
    </g>
  );
  return (
    <div style={{ position: "absolute", left: 132, top: 2449 }}>
      <ScatterChart width={plotW + yW} height={plotH + xH} margin={M0}>
        <XAxis
          type="number"
          dataKey="x"
          domain={[0.5, 9.5]}
          ticks={[1, 2, 3, 4, 5, 6, 7, 8, 9]}
          interval={0}
          allowDataOverflow
          height={xH}
          axisLine={false}
          tickLine={false}
          tickSize={0}
          tick={(p: any) => {
            const i = p.payload.value - 1;
            const ax = p.x + 12, ay = p.y + 6;
            return (
              <text x={ax} y={ay} transform={`rotate(-45 ${ax} ${ay})`} textAnchor="end" dominantBaseline="hanging" fontSize={22} fontWeight="bold" fontStyle={corrItalic[i] ? "italic" : "normal"} fill="#000">
                {corrLabels[i]}
              </text>
            );
          }}
        />
        <YAxis
          type="number"
          dataKey="y"
          orientation="right"
          domain={[0.5, 9.5]}
          reversed
          ticks={[1, 2, 3, 4, 5, 6, 7, 8, 9]}
          interval={0}
          allowDataOverflow
          width={yW}
          axisLine={false}
          tickLine={false}
          tickSize={0}
          tickMargin={6}
          tick={(p: any) => {
            const i = p.payload.value - 1;
            return (
              <text x={p.x} y={p.y} dy="0.36em" textAnchor="start" fontSize={22} fontWeight="bold" fontStyle={corrItalic[i] ? "italic" : "normal"} fill="#000">
                {corrLabels[i]}
              </text>
            );
          }}
        />
        <Scatter data={cells} isAnimationActive={false} shape={shape} />
      </ScatterChart>
    </div>
  );
}

function T({ x, y, s, a = "start", c = "#000", i = false, rot, children }: any) {
  return (
    <text
      x={x}
      y={y}
      fontSize={s}
      textAnchor={a}
      fill={c}
      fontWeight="bold"
      fontStyle={i ? "italic" : "normal"}
      transform={rot ? `rotate(${rot} ${x} ${y})` : undefined}
      style={{ whiteSpace: "pre" }}
    >
      {children}
    </text>
  );
}
const It = ({ children }: any) => <tspan fontStyle="italic">{children}</tspan>;

function Overlay() {
  const letters: [string, number, number][] = [
    ["A", 6, 54], ["B", 996, 54], ["C", 1563, 54], ["D", 10, 664], ["E", 550, 664], ["F", 1092, 664], ["G", 1609, 664],
    ["H", 10, 1322], ["I", 1222, 1273], ["J", 7, 1864], ["K", 11, 2494],
  ];
  const ggTitles = [313, 838, 1378, 1874];
  const ggStats = [
    ["0.18", "0.0081", 427, 427],
    ["0.29", "1.9e\u221205", 974, 984],
    ["0.19", "0.0068", 1490, 1492],
    ["0.31", "8.1e\u221206", 1959, 1964],
  ];
  const ggYLab = [92, 618, 1137, 1650];
  return (
    <svg width={2089} height={2961} style={{ position: "absolute", left: 0, top: 0, pointerEvents: "none" }}>
      {letters.map(([l, x, y]) => (
        <T key={l} x={x} y={y} s={54}>{l}</T>
      ))}
      {/* A */}
      <T x={420} y={59} s={31} a="middle" c="#8C70D8">Genes downregulated by P53-null</T>
      <T x={335} y={295} s={30} a="middle">{vennACounts[0]}</T>
      <T x={528} y={295} s={30} a="middle">{vennACounts[1]}</T>
      <T x={714} y={295} s={30} a="middle">{vennACounts[2]}</T>
      <T x={530} y={352} s={30} a="middle" i>AEN</T>
      <T x={690} y={496} s={31} a="middle" c="#1F4FC8">Consistently upregulated</T>
      <T x={667} y={534} s={31} a="middle" c="#1F4FC8">genes in WD &amp; WD→CD mice</T>
      {/* B */}
      <T x={1338} y={46} s={36} a="middle">Mouse liver</T>
      <T x={1072} y={285} s={32} a="middle" rot={-90}>Relative  expression of <It>Aen</It></T>
      <T x={1272} y={167} s={42} a="middle">**</T>
      <T x={1334} y={115} s={42} a="middle">**</T>
      {/* C */}
      <T x={1645} y={46} s={36}>Mouse liver (GSE176112)</T>
      <T x={1654} y={291} s={31} a="middle" rot={-90}>Relative  expression of <It>Aen</It></T>
      <T x={1918} y={128} s={42} a="middle">*</T>
      {/* D-G */}
      {ggTitles.map((x) => (
        <T key={x} x={x} y={656} s={36} a="middle">GSE135251</T>
      ))}
      {ggStats.map(([r, p, xr, xp]) => (
        <g key={String(xr)}>
          <T x={xr} y={741} s={21} a="middle"><It>R</It>={r}</T>
          <T x={xp} y={766} s={21} a="middle"><It>P</It>={p}</T>
        </g>
      ))}
      {ggYLab.map((x) => (
        <T key={x} x={x} y={918} s={24} a="middle" rot={-90}>Relative expression of <It>AEN</It></T>
      ))}
      <T x={315} y={1171} s={25} a="middle">ssGSEA score of DDR pathway</T>
      <T x={846} y={1171} s={25} a="middle">Relative expression of  <It>TP53</It></T>
      <T x={1369} y={1166} s={25} a="middle">NAFLD activity score</T>
      <T x={1862} y={1171} s={25} a="middle">Fibrosis stage</T>
      {/* H */}
      <T x={398} y={1298} s={27} a="middle" c="#8C70D8">WD→CD-upregulated genes</T>
      <T x={338} y={1521} s={30} a="middle">{vennHCounts[0]}</T>
      <T x={538} y={1521} s={30} a="middle">{vennHCounts[1]}</T>
      <T x={725} y={1521} s={30} a="middle">{vennHCounts[2]}</T>
      <T x={660} y={1755} s={27} a="middle" c="#2F86CA">Genes positively associated with <It>AEN</It></T>
      {/* I */}
      <T x={1665} y={1266} s={44} a="middle">GO-BP</T>
      <rect x={1607} y={1307} width={305} height={1568} fill="none" stroke="#333" strokeWidth={1.5} />
      <T x={1762} y={2925} s={25} a="middle">GeneRatio</T>
      <T x={1929} y={1331} s={20}><It>P</It> Value</T>
      <rect x={1927} y={1348} width={37} height={185} fill="url(#pgrad)" />
      {goPLegend.map((p) => {
        const y = 1533 - ((p - 1e-6) / (P_MAX - 1e-6)) * 185;
        return (
          <g key={p}>
            <line x1={1927} x2={1934} y1={y} y2={y} stroke="#fff" strokeWidth={1.5} />
            <line x1={1957} x2={1964} y1={y} y2={y} stroke="#fff" strokeWidth={1.5} />
            <T x={1974} y={y + 8} s={21}>{p.toFixed(5)}</T>
          </g>
        );
      })}
      <T x={1929} y={1599} s={20}>Count</T>
      {goCountLegend.map((c, k) => {
        const y = [1633, 1669, 1706, 1744][k];
        return (
          <g key={c}>
            <circle cx={1946} cy={y} r={countRadius(c)} fill="#000" />
            <T x={1974} y={y + 8} s={21}>{c}</T>
          </g>
        );
      })}
      <rect x={1231} y={2555} width={403} height={197} fill="none" stroke="#E8141B" strokeWidth={3} strokeDasharray="12 7" />
      {/* J */}
      <T x={128} y={2065} s={27} a="middle" rot={-90}>Relative expression of <It>AEN</It></T>
      <T x={605} y={2354} s={27} a="middle">ssGSEA score of execution phase of apoptosis</T>
      <T x={918} y={2227} s={26} a="middle">R = 0.44</T>
      <T x={926} y={2269} s={26} a="middle"><It>P</It>= 0.0330</T>
      {/* K */}
      <rect x={1081} y={2464} width={17} height={273} fill="url(#cgrad)" />
      {corrLegend.map((v) => {
        const y = 2464 + ((1 - v) / 2) * 273;
        return (
          <T key={v} x={1104} y={y + 8} s={22}>{v < 0 ? "\u2212" + Math.abs(v) : String(v)}</T>
        );
      })}
    </svg>
  );
}

export default function App() {
  return (
    <div style={{ position: "relative", width: 2089, height: 2961, background: "#fff", fontFamily: FONT, overflow: "hidden" }}>
      <style>{"body{margin:0}"}</style>
      <svg width={0} height={0} style={{ position: "absolute" }}>
        <defs>
          <pattern id="checker" width={28} height={28} patternUnits="userSpaceOnUse">
            <rect width={28} height={28} fill="#fff" />
            <rect width={14} height={14} fill="#7F7F7F" />
            <rect x={14} y={14} width={14} height={14} fill="#7F7F7F" />
          </pattern>
          <linearGradient id="pgrad" x1="0" y1="1" x2="0" y2="0">
            <stop offset="0" stopColor={pColor(1e-6)} />
            <stop offset="0.5" stopColor={pColor(7.8e-5)} />
            <stop offset="1" stopColor={pColor(P_MAX)} />
          </linearGradient>
          <linearGradient id="cgrad" x1="0" y1="1" x2="0" y2="0">
            {corrStops.map((c, i) => (
              <stop key={i} offset={i / 8} stopColor={c} />
            ))}
          </linearGradient>
        </defs>
      </svg>
      <VennChart left={0} top={0} width={907} height={560} circles={vennALayout} id="vennA" />
      <PanelB />
      <PanelC />
      <GgScatter left={122} top={698} plotW={387} plotH={425} points={ddrPoints} fit={ddrFit} band={ddrBand} xDomain={[9000, 10200]} xTicks={ddrTicks} />
      <GgScatter left={648} top={698} plotW={396} plotH={425} points={tp53Points} fit={tp53Fit} band={tp53Band} xDomain={[1.54, 6.31]} xTicks={tp53Ticks} />
      <GgScatter
        left={1170}
        top={698}
        plotW={397}
        plotH={425}
        points={nasScores.flatMap((s, i) => nasValues[i].map((v) => [s, v]))}
        fit={nasFit}
        band={nasBand}
        xDomain={[0.9, 8.8]}
        xTicks={nasTicks}
      />
      <GgScatter
        left={1676}
        top={698}
        plotW={373}
        plotH={425}
        points={fibStages.flatMap((s, i) => fibValues[i].map((v) => [s, v]))}
        fit={fibFit}
        band={fibBand}
        xDomain={[-0.02, 4.41]}
        xTicks={fibTicks}
      />
      <VennChart left={0} top={1230} width={1000} height={560} circles={vennHLayout} id="vennH" />
      <PanelI />
      <PanelJ />
      <PanelK />
      <Overlay />
    </div>
  );
}
